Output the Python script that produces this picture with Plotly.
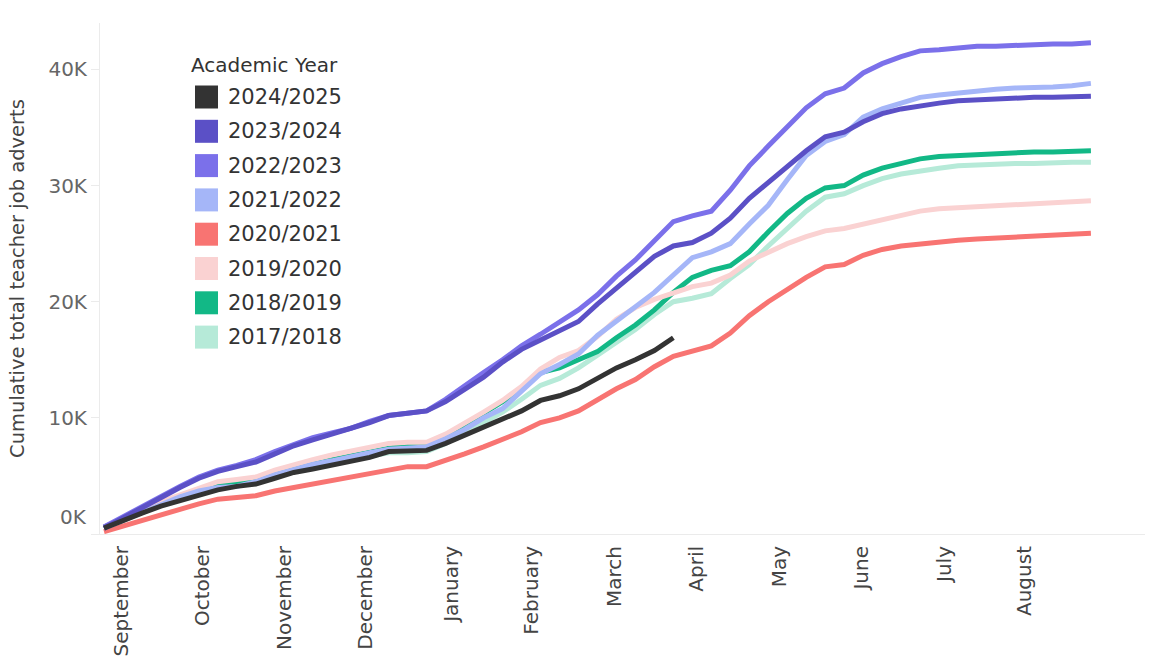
import plotly.graph_objects as go

# ── Data (cumulative adverts, thousands; one value per week from September) ──
WEEKS = list(range(53))

YEARS = ["2024/2025", "2023/2024", "2022/2023", "2021/2022",
         "2020/2021", "2019/2020", "2018/2019", "2017/2018"]

COLORS = {
    "2024/2025": "#333333",
    "2023/2024": "#5B50C6",
    "2022/2023": "#7B70EA",
    "2021/2022": "#A5B6F8",
    "2020/2021": "#F87472",
    "2019/2020": "#FAD2D2",
    "2018/2019": "#12B886",
    "2017/2018": "#B6EAD8",
}

y_2024_25 = [0.5, 1.2, 1.8, 2.4, 2.9, 3.4, 3.8, 4.1, 4.3, 4.8, 5.3, 5.6, 5.9, 6.2,
             6.6, 7.1, 7.2, 7.2, 7.8, 8.5, 9.2, 9.9, 10.6, 11.5, 11.9, 12.5, 13.4,
             14.3, 15.0, 15.8, 16.9]

y_2023_24 = [0.5, 1.4, 2.2, 3.2, 4.0, 4.8, 5.4, 5.8, 6.2, 6.9, 7.6, 8.1, 8.6, 9.0,
             9.6, 10.2, 10.4, 10.6, 11.4, 12.5, 13.5, 14.8, 15.9, 16.7, 17.5, 18.3,
             19.8, 21.2, 22.6, 23.9, 24.8, 25.1, 25.9, 27.2, 28.9, 30.3, 31.6, 33.0,
             34.2, 34.6, 35.5, 36.2, 36.6, 36.9, 37.1, 37.3, 37.4, 37.5, 37.6, 37.6,
             37.6, 37.7, 37.7]

y_2022_23 = [0.6, 1.5, 2.3, 3.2, 4.1, 4.9, 5.5, 5.9, 6.4, 7.1, 7.7, 8.3, 8.7, 9.1,
             9.7, 10.2, 10.4, 10.6, 11.6, 12.8, 13.9, 15.0, 16.2, 17.2, 18.2, 19.3,
             20.6, 22.2, 23.6, 25.3, 26.9, 27.4, 27.8, 29.6, 31.7, 33.4, 35.1, 36.7,
             37.9, 38.4, 39.7, 40.5, 41.1, 41.6, 41.7, 41.9, 42.0, 42.0, 42.1, 42.1,
             42.2, 42.2, 42.3]

y_2021_22 = [0.5, 1.2, 1.9, 2.6, 3.2, 3.7, 4.0, 4.1, 4.5, 5.1, 5.6, 6.0, 6.3, 6.7,
             7.0, 7.3, 7.4, 7.5, 8.2, 9.0, 10.0, 10.8, 12.3, 13.8, 14.6, 15.5,
             17.1, 18.3, 19.5, 20.8, 22.3, 23.8, 24.3, 25.0, 26.7, 28.3, 30.5, 32.6,
             33.8, 34.4, 35.9, 36.6, 37.1, 37.6, 37.8, 38.0, 38.2, 38.3, 38.4, 38.4,
             38.5, 38.6, 38.8]

y_2020_21 = [0.2, 0.7, 1.2, 1.7, 2.2, 2.6, 3.0, 3.2, 3.3, 3.7, 4.0, 4.3, 4.6, 4.9,
             5.2, 5.5, 5.8, 5.8, 6.3, 6.9, 7.5, 8.1, 8.8, 9.6, 10.0, 10.6, 11.6,
             12.5, 13.3, 14.4, 15.3, 15.7, 16.2, 17.3, 18.8, 20.0, 21.1, 22.1, 23.0,
             23.2, 24.0, 24.5, 24.8, 25.0, 25.2, 25.3, 25.4, 25.5, 25.6, 25.6, 25.7,
             25.8, 25.9]

y_2019_20 = [0.6, 1.4, 2.1, 2.8, 3.4, 4.0, 4.5, 4.7, 4.9, 5.5, 6.0, 6.4, 6.8, 7.1,
             7.4, 7.8, 7.9, 7.9, 8.6, 9.5, 10.5, 11.5, 12.7, 14.2, 15.2, 15.8, 17.0,
             18.5, 19.5, 20.2, 20.7, 21.3, 21.6, 22.3, 23.5, 24.3, 25.0, 25.6, 26.1,
             26.3, 26.7, 27.1, 27.5, 27.8, 28.0, 28.1, 28.2, 28.3, 28.4, 28.4, 28.5,
             28.6, 28.7]

y_2018_19 = [0.6, 1.3, 2.0, 2.6, 3.2, 3.7, 4.2, 4.4, 4.6, 5.1, 5.6, 6.0, 6.4, 6.7,
             7.0, 7.4, 7.7, 7.8, 8.5, 9.4, 10.4, 11.3, 12.4, 13.9, 14.3, 15.0, 15.7,
             16.9, 18.0, 19.3, 20.8, 22.1, 22.7, 23.1, 24.3, 26.0, 27.6, 28.9, 29.8,
             30.0, 30.9, 31.5, 31.9, 32.3, 32.5, 32.6, 32.7, 32.8, 32.8, 32.9, 32.9,
             33.0, 33.0]

y_2017_18 = [0.5, 1.2, 1.9, 2.5, 3.0, 3.5, 3.9, 4.2, 4.4, 4.9, 5.4, 5.8, 6.1, 6.4,
             6.7, 7.0, 7.0, 7.1, 7.8, 8.7, 9.6, 10.5, 11.6, 12.8, 13.4, 14.3, 15.4,
             16.5, 17.6, 18.9, 20.0, 20.3, 20.7, 22.0, 23.2, 24.8, 26.3, 27.8, 29.0,
             29.3, 30.0, 30.6, 31.0, 31.3, 31.5, 31.7, 31.8, 31.9, 31.9, 31.9, 32.0,
             32.0, 32.0]

SERIES = {
    "2024/2025": y_2024_25,
    "2023/2024": y_2023_24,
    "2022/2023": y_2022_23,
    "2021/2022": y_2021_22,
    "2020/2021": y_2020_21,
    "2019/2020": y_2019_20,
    "2018/2019": y_2018_19,
    "2017/2018": y_2017_18,
}

MONTHS = ["September", "October", "November", "December", "January", "February",
          "March", "April", "May", "June", "July", "August"]
MONTH_POS = [0.9, 5.2, 9.5, 13.8, 18.3, 22.55, 26.9, 31.2, 35.6, 39.9, 44.3, 48.5]

Y_TICKS = [0, 10, 20, 30, 40]
Y_TICK_TEXT = ["", "10K", "20K", "30K", "40K"]   # 0K drawn separately (flush label)

FONT = "DejaVu Sans"

# plot box in page pixels (used to place the hand-drawn legend)
L, R, T, B = 100, 5, 23, 123
W, H = 1150, 657
PW, PH = W - L - R, H - T - B


def px_x(x):
    return (x - L) / PW


def px_y(y):
    return (H - B - y) / PH


fig = go.Figure()

# oldest first so the current year sits on top
for yr in reversed(YEARS):
    vals = SERIES[yr]
    fig.add_trace(go.Scatter(
        x=WEEKS[:len(vals)], y=vals, mode="lines", name=yr,
        line=dict(color=COLORS[yr], width=5), showlegend=False,
        hoverinfo="skip",
    ))

# ── Legend (square swatches, drawn by hand) ──────────────────────────────────
fig.add_annotation(
    x=px_x(189), y=px_y(65), xref="paper", yref="paper",
    text="Academic Year", showarrow=False, xanchor="left", yanchor="middle",
    font=dict(family=FONT, size=20, color="#333333"),
)
for i, yr in enumerate(YEARS):
    cy = 97 + i * 34.3
    fig.add_shape(
        type="rect", xref="paper", yref="paper",
        x0=px_x(195), x1=px_x(218), y0=px_y(cy - 11.5), y1=px_y(cy + 11.5),
        fillcolor=COLORS[yr], line=dict(width=0),
    )
    fig.add_annotation(
        x=px_x(226), y=px_y(cy), xref="paper", yref="paper",
        text=yr, showarrow=False, xanchor="left", yanchor="middle",
        font=dict(family=FONT, size=21, color="#333333"),
    )

# flush "0K" label, nudged up like the original
fig.add_annotation(
    x=px_x(89), y=0, xref="paper", yref="y", text="0K", showarrow=False,
    xanchor="right", yanchor="middle", yshift=17,
    font=dict(family=FONT, size=20, color="#666666"),
)

fig.update_xaxes(
    range=[-0.21, 54.85], tickvals=MONTH_POS, ticktext=MONTHS, tickangle=-90,
    showgrid=False, zeroline=False, showline=True, linecolor="#EBEBEB",
    linewidth=1, ticks="", ticklabelstandoff=3, automargin=False,
    tickfont=dict(family=FONT, size=20, color="#444444"),
)
fig.update_yaxes(
    range=[0, 44], tickvals=Y_TICKS, ticktext=Y_TICK_TEXT,
    showgrid=False, zeroline=False, showline=True, linecolor="#EBEBEB",
    linewidth=1, ticks="outside", ticklen=8, tickcolor="#EBEBEB",
    automargin=False,
    tickfont=dict(family=FONT, size=20, color="#666666"),
    title=dict(text="Cumulative total teacher job adverts", standoff=18,
               font=dict(family=FONT, size=19.5, color="#444444")),
)

fig.update_layout(
    width=W, height=H,
    margin=dict(l=L, r=R, t=T, b=B),
    paper_bgcolor="white", plot_bgcolor="white",
    showlegend=False,
)

# page has a default 8px body margin; drop it so the figure sits at (0, 0)
fig.write_html("out.html", config={"displayModeBar": False},
               post_script="document.body.style.margin='0';")
